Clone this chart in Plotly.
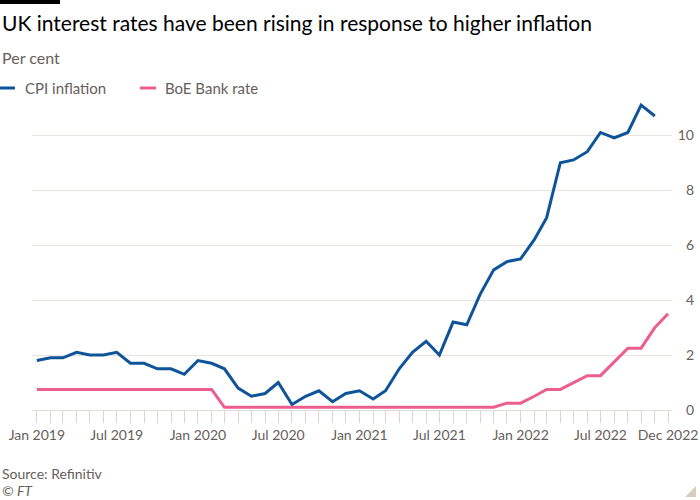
import plotly.graph_objects as go
import pandas as pd

# ---- data ----
months = pd.date_range("2019-01-01", "2022-12-01", freq="MS").strftime("%Y-%m-%d").tolist()

cpi_inflation = [
    1.8, 1.9, 1.9, 2.1, 2.0, 2.0, 2.1, 1.7, 1.7, 1.5, 1.5, 1.3,   # 2019
    1.8, 1.7, 1.5, 0.8, 0.5, 0.6, 1.0, 0.2, 0.5, 0.7, 0.3, 0.6,   # 2020
    0.7, 0.4, 0.7, 1.5, 2.1, 2.5, 2.0, 3.2, 3.1, 4.2, 5.1, 5.4,   # 2021
    5.5, 6.2, 7.0, 9.0, 9.1, 9.4, 10.1, 9.9, 10.1, 11.1, 10.7,    # 2022 (to Nov)
]
boe_bank_rate = [
    0.75, 0.75, 0.75, 0.75, 0.75, 0.75, 0.75, 0.75, 0.75, 0.75, 0.75, 0.75,  # 2019
    0.75, 0.75, 0.1, 0.1, 0.1, 0.1, 0.1, 0.1, 0.1, 0.1, 0.1, 0.1,            # 2020
    0.1, 0.1, 0.1, 0.1, 0.1, 0.1, 0.1, 0.1, 0.1, 0.1, 0.1, 0.25,             # 2021
    0.25, 0.5, 0.75, 0.75, 1.0, 1.25, 1.25, 1.75, 2.25, 2.25, 3.0, 3.5,      # 2022
]

x_tick_vals = ["2019-01-01", "2019-07-01", "2020-01-01", "2020-07-01", "2021-01-01",
               "2021-07-01", "2022-01-01", "2022-07-01", "2022-12-01"]
x_tick_text = ["Jan 2019", "Jul 2019", "Jan 2020", "Jul 2020", "Jan 2021",
               "Jul 2021", "Jan 2022", "Jul 2022", "Dec 2022"]
y_tick_vals = [0, 2, 4, 6, 8, 10]

series_names = ["CPI inflation", "BoE Bank rate"]
BLUE = "#0F5499"
PINK = "#EB5E8D"
GREY = "#66605C"
GRID = "#E9E4DF"
TICK = "#DCD3CB"
FONT = "Lato"

# figure geometry (px)
L, R, T, B = 32, 697, 94, 421     # paper area used by the subplot
XR = 672                          # right end of the x axis / gridlines
Y0 = 410                          # pixel row of y = 0
W, H = 700, 500
def px(x):
    return (x - L) / (R - L)
def py(y):
    return (B - y) / (B - T)

fig = go.Figure()
fig.add_trace(go.Scatter(x=months[:len(cpi_inflation)], y=cpi_inflation, mode="lines",
                         name=series_names[0], line=dict(color=BLUE, width=3),
                         showlegend=False))
fig.add_trace(go.Scatter(x=months[:len(boe_bank_rate)], y=boe_bank_rate, mode="lines",
                         name=series_names[1], line=dict(color=PINK, width=3),
                         showlegend=False))

annotations = [
    dict(text="UK interest rates have been rising in response to higher inflation",
         x=px(0), y=py(23), xanchor="left", yanchor="middle",
         font=dict(family=FONT, size=21, color="#000000")),
    dict(text="Per cent", x=px(0), y=py(57), xanchor="left", yanchor="middle",
         font=dict(family=FONT, size=16, color=GREY)),
    dict(text=series_names[0], x=px(23), y=py(88), xanchor="left", yanchor="middle",
         font=dict(family=FONT, size=15, color=GREY)),
    dict(text=series_names[1], x=px(163), y=py(88), xanchor="left", yanchor="middle",
         font=dict(family=FONT, size=15, color=GREY)),
    dict(text="Source: Refinitiv", x=px(0), y=py(473), xanchor="left", yanchor="middle",
         font=dict(family=FONT, size=14, color=GREY)),
    dict(text="<i>© FT</i>", x=px(0), y=py(490), xanchor="left", yanchor="middle",
         font=dict(family=FONT, size=14, color=GREY)),
]
for a in annotations:
    a.update(xref="paper", yref="paper", showarrow=False)

shapes = [
    dict(type="rect", x0=px(0), x1=px(60), y0=py(0), y1=py(4),
         fillcolor="#000000", line=dict(width=0)),
    dict(type="line", x0=px(0), x1=px(15), y0=py(88), y1=py(88),
         line=dict(color=BLUE, width=3)),
    dict(type="line", x0=px(140), x1=px(156), y0=py(88), y1=py(88),
         line=dict(color=PINK, width=3)),
    dict(type="path",
         path=f"M {px(696)} {py(486)} L {px(696)} {py(497)} L {px(685)} {py(497)} Z",
         fillcolor="#D9CCC0", line=dict(width=0)),
]
for s in shapes:
    s.update(xref="paper", yref="paper", layer="above")

fig.update_layout(
    width=W, height=H,
    margin=dict(l=L, r=W - R, t=T, b=H - B, pad=0, autoexpand=False),
    paper_bgcolor="#FFFFFF", plot_bgcolor="#FFFFFF",
    font=dict(family=FONT, color=GREY, size=14),
    annotations=annotations, shapes=shapes,
    showlegend=False,
    xaxis=dict(
        type="date", automargin=False,
        domain=[0, px(XR)], anchor="free", position=py(Y0),
        range=["2018-12-21", "2022-12-10"],
        tickmode="array", tickvals=x_tick_vals, ticktext=x_tick_text,
        ticks="outside", ticklen=12, tickcolor=TICK, tickwidth=1,
        minor=dict(tick0="2019-01-01", dtick="M1", ticks="outside", ticklen=12,
                   tickcolor=TICK, tickwidth=1, showgrid=False),
        showgrid=False, zeroline=False, showline=False,
        tickfont=dict(family=FONT, size=14, color=GREY),
    ),
    yaxis=dict(
        side="right", anchor="free", position=1.0,
        ticklabelposition="inside", ticklabelstandoff=0,
        range=[-0.4, 11.5], automargin=False,
        tickmode="array", tickvals=y_tick_vals,
        showgrid=True, gridcolor=GRID, gridwidth=1,
        zeroline=True, zerolinecolor="#E2DBD4", zerolinewidth=1,
        showline=False, ticks="",
        tickfont=dict(family=FONT, size=14, color=GREY),
    ),
)

fig.write_html("out.html",
               config={"displayModeBar": False},
               post_script="document.body.style.margin='0';document.body.style.padding='0';")
